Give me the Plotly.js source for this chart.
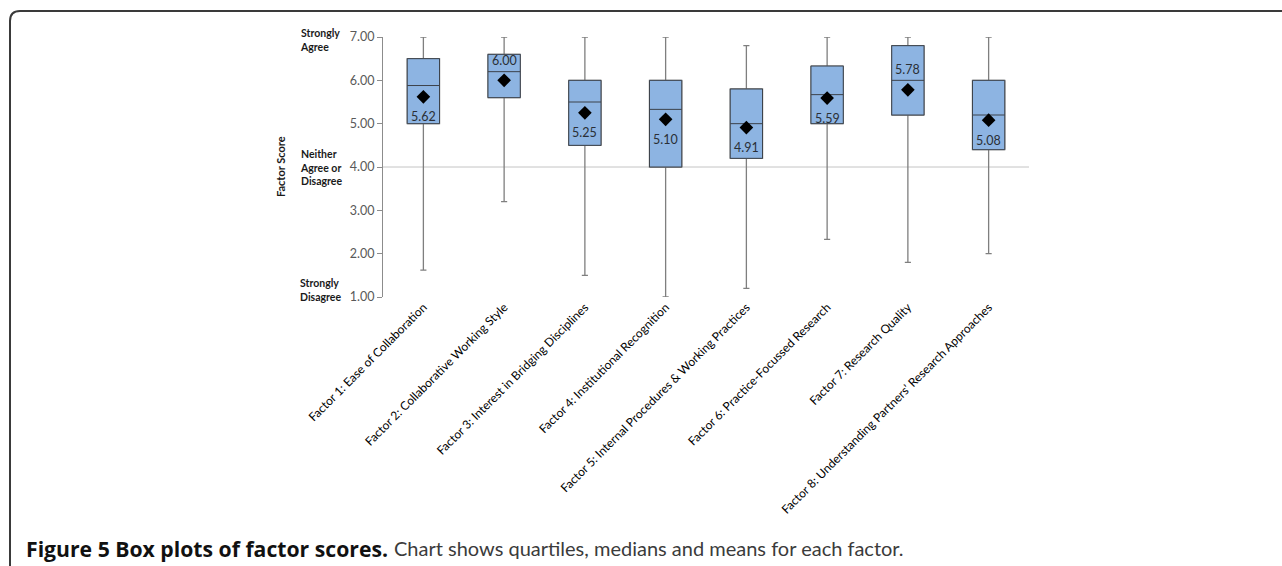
<!DOCTYPE html>
<html>
<head>
<meta charset="utf-8">
<script src="https://cdn.plot.ly/plotly-3.0.1.min.js"></script>
<style>
  html, body { margin: 0; padding: 0; background: #ffffff; }
  #chart { width: 1282px; height: 566px; }
</style>
</head>
<body>
<div id="chart"></div>
<script>
// Factor names shown along the x axis
const categories = [
  "Factor 1: Ease of Collaboration",
  "Factor 2: Collaborative Working Style",
  "Factor 3: Interest in Bridging Disciplines",
  "Factor 4: Institutional Recognition",
  "Factor 5: Internal Procedures & Working Practices",
  "Factor 6: Practice-Focussed Research",
  "Factor 7: Research Quality",
  "Factor 8: Understanding Partners\u2019 Research Approaches"
];

// Five-number summaries and means of the factor scores
const upperWhisker = [7.00, 7.00, 7.00, 7.00, 6.80, 7.00, 7.00, 7.00];
const q3           = [6.50, 6.60, 6.00, 6.00, 5.80, 6.33, 6.80, 6.00];
const medians      = [5.88, 6.20, 5.50, 5.33, 5.00, 5.67, 6.00, 5.20];
const q1           = [5.00, 5.60, 4.50, 4.00, 4.20, 5.00, 5.20, 4.40];
const lowerWhisker = [1.62, 3.20, 1.50, 1.00, 1.20, 2.33, 1.80, 2.00];
const means        = [5.62, 6.00, 5.25, 5.10, 4.91, 5.59, 5.78, 5.08];

// Mean labels that sit above the diamond rather than below it
const labelAbove   = [false, true, false, false, false, false, true, false];

// Y tick values and the agreement scale wording beside them
const yTicks = [1, 2, 3, 4, 5, 6, 7];
const scaleLabels = [
  { y: 6.93, text: "Strongly<br>Agree" },
  { y: 3.98, text: "Neither<br>Agree or<br>Disagree" },
  { y: 1.16, text: "Strongly<br>Disagree" }
];

const FONT = "Lato, 'Open Sans', sans-serif";
const BOX_FILL = "#8db4e2";
const BOX_EDGE = "#3c424a";
const WHISKER = "#7f7f7f";

// Whiskers (grey) drawn first, full range
const whiskerTrace = {
  type: "box",
  x: categories,
  q1: q1, median: medians, q3: q3,
  lowerfence: lowerWhisker, upperfence: upperWhisker,
  width: 0.4,
  whiskerwidth: 0.19,
  boxpoints: false,
  fillcolor: "rgba(0,0,0,0)",
  line: { color: WHISKER, width: 1.3 },
  hoverinfo: "skip",
  showlegend: false
};

// Box bodies with median line, drawn on top of the whiskers
const bodyTrace = {
  type: "box",
  x: categories,
  q1: q1, median: medians, q3: q3,
  lowerfence: q1, upperfence: q3,
  width: 0.4,
  whiskerwidth: 0,
  boxpoints: false,
  fillcolor: BOX_FILL,
  line: { color: BOX_EDGE, width: 1 },
  hoverinfo: "skip",
  showlegend: false
};

// Means as black diamonds
const meanTrace = {
  type: "scatter",
  mode: "markers",
  x: categories,
  y: means,
  marker: { symbol: "diamond", size: 10.5, color: "#000000" },
  hoverinfo: "skip",
  showlegend: false
};

// Pixel geometry of the plotting area
const L = 383, R = 1029, T = 37, B = 297, W = 1282, H = 566;
const pw = R - L, ph = B - T;
const px = v => (v - L) / pw;      // page x -> paper x
const py = v => (B - v) / ph;      // page y -> paper y

const annotations = [];

means.forEach((m, i) => {
  annotations.push({
    x: categories[i], y: m, xref: "x", yref: "y",
    text: m.toFixed(2),
    showarrow: false,
    yshift: labelAbove[i] ? 20 : -20,
    font: { family: FONT, size: 12.5, color: "#2a2f36" }
  });
});

scaleLabels.forEach(s => {
  annotations.push({
    x: px(298), y: s.y, xref: "paper", yref: "y",
    xanchor: "left", yanchor: "middle", align: "left",
    text: "<b>" + s.text + "</b>",
    showarrow: false,
    font: { family: FONT, size: 10.5, color: "#1a1a1a" }
  });
});

// Y axis title
annotations.push({
  x: px(280), y: py(167), xref: "paper", yref: "paper",
  xanchor: "center", yanchor: "middle",
  text: "<b>Factor Score</b>", textangle: -90,
  showarrow: false,
  font: { family: FONT, size: 11, color: "#1a1a1a" }
});

// Figure caption: bold lead-in followed by the description
annotations.push({
  x: px(24), y: py(548), xref: "paper", yref: "paper",
  xanchor: "left", yanchor: "middle", align: "left",
  text: "<b>Figure 5 Box plots of factor scores.</b>",
  showarrow: false,
  font: { family: "'Open Sans', sans-serif", size: 21.2, color: "#111111" }
});
annotations.push({
  x: px(392), y: py(548), xref: "paper", yref: "paper",
  xanchor: "left", yanchor: "middle", align: "left",
  text: "Chart shows quartiles, medians and means for each factor.",
  showarrow: false,
  font: { family: FONT, size: 20, color: "#3b3b3b" }
});

// Rounded frame around the figure (left and top edges)
const fx = px(10), fy = py(11), rx = 10 / pw, ry = 10 / ph;
const frame = {
  type: "path", xref: "paper", yref: "paper",
  path: `M ${fx} ${py(H + 5)} L ${fx} ${fy - ry} Q ${fx} ${fy} ${fx + rx} ${fy} L ${px(W + 5)} ${fy}`,
  line: { color: "#3a3a3a", width: 2 }
};

// Neutral reference line at 4.00
const neutral = {
  type: "line", xref: "paper", yref: "y",
  x0: 0, x1: 1, y0: 4, y1: 4,
  line: { color: "#c4c4c4", width: 1 },
  layer: "below"
};

const layout = {
  width: W, height: H,
  margin: { l: L, r: W - R, t: T, b: H - B, pad: 0 },
  paper_bgcolor: "#ffffff",
  plot_bgcolor: "#ffffff",
  showlegend: false,
  boxmode: "overlay",
  font: { family: FONT },
  xaxis: {
    type: "category",
    range: [-0.5, categories.length - 0.5],
    showgrid: false, zeroline: false, showline: false,
    ticks: "",
    tickangle: -45,
    tickfont: { family: FONT, size: 12, color: "#000000" },
    fixedrange: true
  },
  yaxis: {
    range: [1, 7],
    tickvals: yTicks,
    ticktext: yTicks.map(v => v.toFixed(2)),
    showgrid: false, zeroline: false,
    showline: true, linecolor: "#8c8c8c", linewidth: 1,
    ticks: "outside", ticklen: 5, tickcolor: "#8c8c8c",
    tickfont: { family: FONT, size: 12.5, color: "#595959" },
    fixedrange: true
  },
  shapes: [neutral, frame],
  annotations: annotations
};

Plotly.newPlot("chart", [whiskerTrace, bodyTrace, meanTrace], layout, { displayModeBar: false, staticPlot: true });
</script>
</body>
</html>
